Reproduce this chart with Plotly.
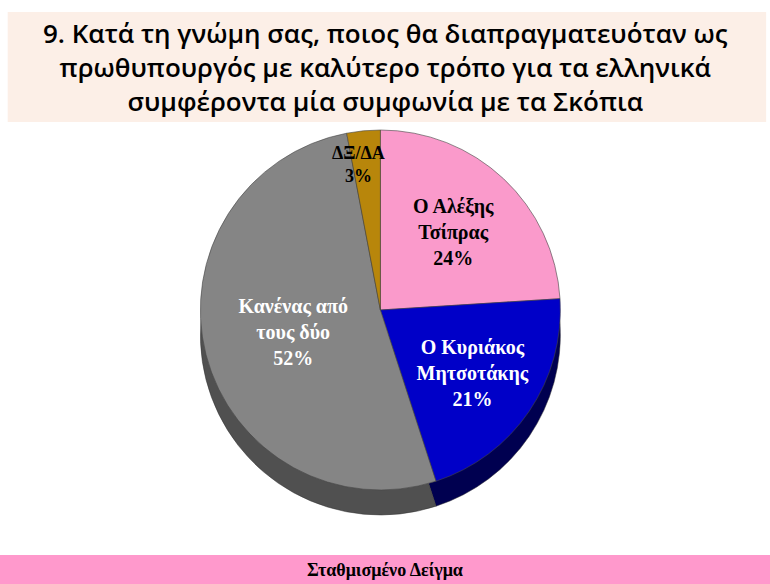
import plotly.graph_objects as go

labels = ["Ο Αλέξης<br>Τσίπρας", "Ο Κυριάκος<br>Μητσοτάκης", "Κανένας από<br>τους δύο", "ΔΞ/ΔΑ"]
values = [24, 21, 52, 3]
colors = ["#fa9acb", "#0000c8", "#858585", "#b8860b"]
side_colors = ["#b06a90", "#000050", "#505050", "#7a5a08"]
text_colors = ["black", "white", "white", "black"]
small_label = "ΔΞ/ΔΑ<br>3%"

title_text = ("9. Κατά τη γνώμη σας, ποιος θα διαπραγματευόταν ως<br>"
              "πρωθυπουργός με καλύτερο τρόπο για τα ελληνικά<br>"
              "συμφέροντα μία συμφωνία με τα Σκόπια")
footer_text = "Σταθμισμένο Δείγμα"

H = 584.0
templates = ["<b>%{label}<br>%{percent}</b>"] * 3 + [""]

fig = go.Figure()

# depth (side) layer
fig.add_trace(go.Pie(
    labels=labels, values=values, sort=False, direction="clockwise", rotation=0,
    marker=dict(colors=side_colors, line=dict(color="#333333", width=0.5)),
    textinfo="none", hoverinfo="skip", showlegend=False,
    domain=dict(x=[0.094, 0.894], y=[1 - 515 / H, 1 - 155 / H]),
))
# top face
fig.add_trace(go.Pie(
    labels=labels, values=values, sort=False, direction="clockwise", rotation=0,
    marker=dict(colors=colors, line=dict(color="#444444", width=0.6)),
    texttemplate=templates,
    textposition="inside", insidetextorientation="horizontal",
    textfont=dict(family="Liberation Serif", size=20, color=text_colors),
    showlegend=False,
    domain=dict(x=[0.094, 0.894], y=[1 - 490 / H, 1 - 130 / H]),
))

fig.update_layout(
    width=770, height=584,
    margin=dict(l=0, r=0, t=0, b=0),
    paper_bgcolor="white", plot_bgcolor="white",
    shapes=[
        dict(type="rect", xref="paper", yref="paper", x0=0.01, x1=0.995,
             y0=1 - 122 / H, y1=1 - 12 / H, fillcolor="#fcefe7", line=dict(width=0), layer="below"),
        dict(type="rect", xref="paper", yref="paper", x0=0, x1=1,
             y0=0, y1=29 / H, fillcolor="#ff99cc", line=dict(width=0), layer="below"),
    ],
    annotations=[
        dict(text=title_text, xref="paper", yref="paper", x=0.5, y=1 - 67 / H,
             showarrow=False, xanchor="center", yanchor="middle",
             font=dict(family="Open Sans", size=26, color="black", weight=600)),
        dict(text="<b>" + footer_text + "</b>", xref="paper", yref="paper", x=0.5, y=14.5 / H,
             showarrow=False, xanchor="center", yanchor="middle",
             font=dict(family="Liberation Serif", size=18, color="black")),
        dict(text="<b>" + small_label + "</b>", xref="paper", yref="paper", x=0.465, y=1 - 165 / H,
             showarrow=False, xanchor="center", yanchor="middle",
             font=dict(family="Liberation Serif", size=18, color="black")),
    ],
)

fig.write_html("out.html", config={"displayModeBar": False},
               post_script="document.body.style.margin='0';")
